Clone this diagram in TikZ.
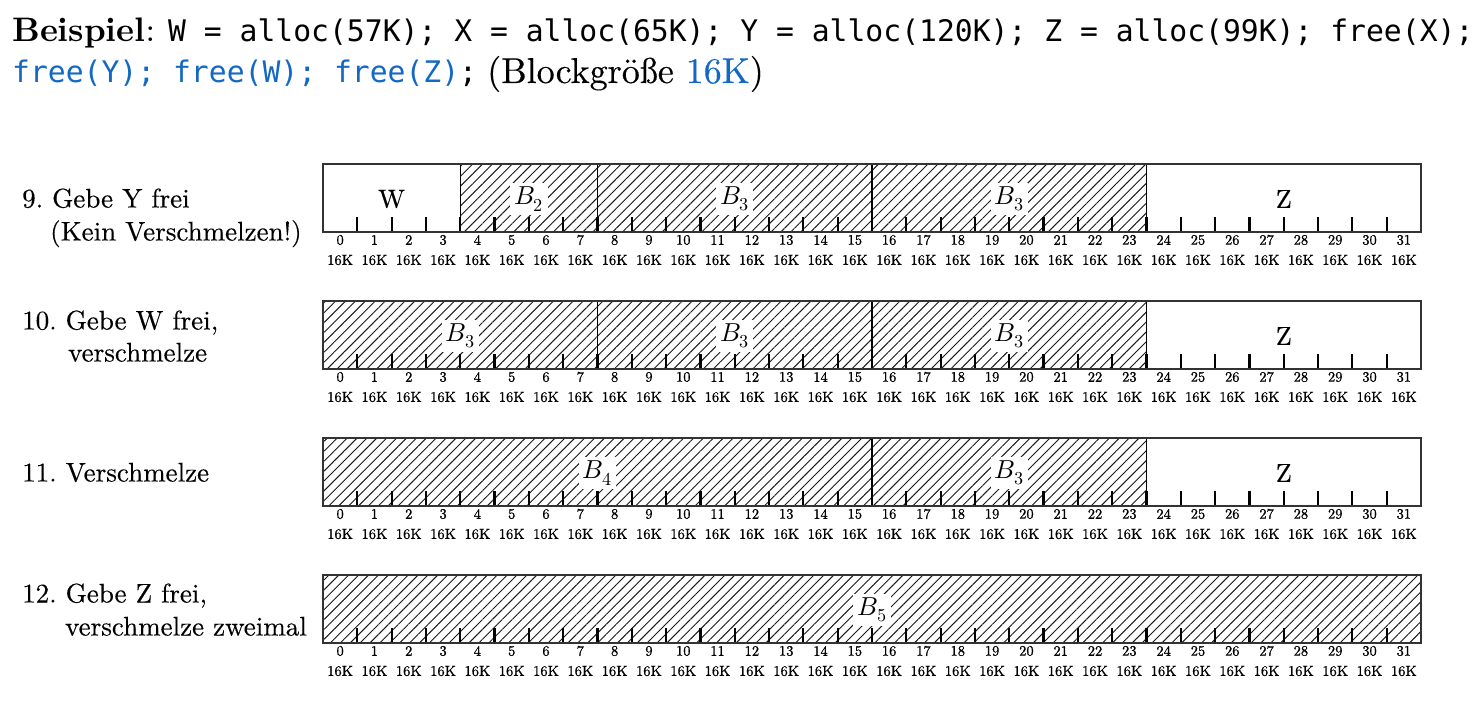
\documentclass[tikz,border=0pt]{standalone}
\usepackage{fontspec}
\usepackage{unicode-math}
\setmainfont{lmroman10-regular.otf}[BoldFont=lmroman10-bold.otf, ItalicFont=lmroman10-italic.otf, BoldItalicFont=lmroman10-bolditalic.otf]
\setmathfont{Latin Modern Math}
\newfontfamily\codefont{DejaVu Sans Mono}
\newfontfamily\idxfont{lmroman10-regular.otf}[FakeBold=0.9]
\newfontfamily\labelfont{lmroman10-regular.otf}[FakeBold=0.3]
\usetikzlibrary{patterns.meta}
\definecolor{codeblue}{RGB}{18,104,196}
\tikzset{
  hatchfill/.style={pattern={Lines[angle=45,distance=7pt,line width=0.95pt]}, pattern color=black!90},
  divider/.style={draw=black, line width=1.2pt},
  frame/.style={draw=black!80, line width=1.3pt},
  tick/.style={draw=black, line width=2.2pt},
  blocklabel/.style={fill=white, inner sep=4pt, font=\labelfont\fontsize{26}{30}\selectfont},
  idx/.style={inner sep=0pt, font=\idxfont\fontsize{14.5}{16}\selectfont},
  rowlabel/.style={anchor=base west, inner sep=0pt, font=\labelfont\fontsize{27}{32}\selectfont\frenchspacing},
  codetext/.style={anchor=base west, inner sep=0pt, font=\codefont\fontsize{29.7}{35}\selectfont},
}
% #1 row name, #2 top y, #3 blocks start/end/hatch/label
\newcommand\memrow[3]{%
  \foreach \s/\e/\h/\l in {#3} {
    \ifnum\h=1
      \fill[hatchfill] ({323+\s*34.3125},#2) rectangle ({323+\e*34.3125},{#2+68});
    \fi
    \ifnum\s>0
      \draw[divider] ({323+\s*34.3125},#2) -- ({323+\s*34.3125},{#2+68});
    \fi
  }
  \foreach \i in {1,...,31} {
    \draw[tick] ({323+\i*34.3125},{#2+68}) -- ++(0,-15);
  }
  \draw[frame] (323,#2) rectangle (1421,{#2+68});
  \foreach \s/\e/\h/\l [count=\k] in {#3} {
    \node[blocklabel] (#1-b\k) at ({323+(\s+\e)/2*34.3125},{#2+35}) {\l};
  }
  \foreach \i in {0,...,31} {
    \node[idx] (#1-n\i) at ({323+(\i+0.5)*34.3125},{#2+76}) {\i};
    \node[idx] (#1-k\i) at ({323+(\i+0.5)*34.3125},{#2+96}) {16K};
  }
}
\begin{document}
\begin{tikzpicture}[x=1pt,y=-1pt]
\useasboundingbox (0,0) rectangle (1481,706);
% header
\node[anchor=base west, inner sep=0pt, font=\fontsize{34}{40}\selectfont] (beispiel) at (12,42) {\textbf{Beispiel}:};
\node[codetext] (code1) at (168,42) {W = alloc(57K); X = alloc(65K); Y = alloc(120K); Z = alloc(99K); free(X);};
\node[codetext] (code2) at (12,83) {\textcolor{codeblue}{free(Y); free(W); free(Z)};};
\node[anchor=base west, inner sep=0pt, font=\labelfont\fontsize{36}{40}\selectfont] (blocksize) at (487,83) {(Blockgröße \textcolor{codeblue}{16K})};
% row labels
\node[rowlabel] (l9a) at (22,207.5) {9. Gebe Y frei};
\node[rowlabel] (l9b) at (50,240.5) {(Kein Verschmelzen!)};
\node[rowlabel] (l10a) at (22,329.5) {10. Gebe W frei,};
\node[rowlabel] (l10b) at (68,361.5) {verschmelze};
\node[rowlabel] (l11) at (22,481.5) {11. Verschmelze};
\node[rowlabel] (l12a) at (22,602.5) {12. Gebe Z frei,};
\node[rowlabel] (l12b) at (65,635.5) {verschmelze zweimal};
% rows
\memrow{r9}{164}{0/4/0/W, 4/8/1/$B_2$, 8/16/1/$B_3$, 16/24/1/$B_3$, 24/32/0/Z}
\memrow{r10}{301}{0/8/1/$B_3$, 8/16/1/$B_3$, 16/24/1/$B_3$, 24/32/0/Z}
\memrow{r11}{438}{0/16/1/$B_4$, 16/24/1/$B_3$, 24/32/0/Z}
\memrow{r12}{575}{0/32/1/$B_5$}
\end{tikzpicture}
\end{document}
